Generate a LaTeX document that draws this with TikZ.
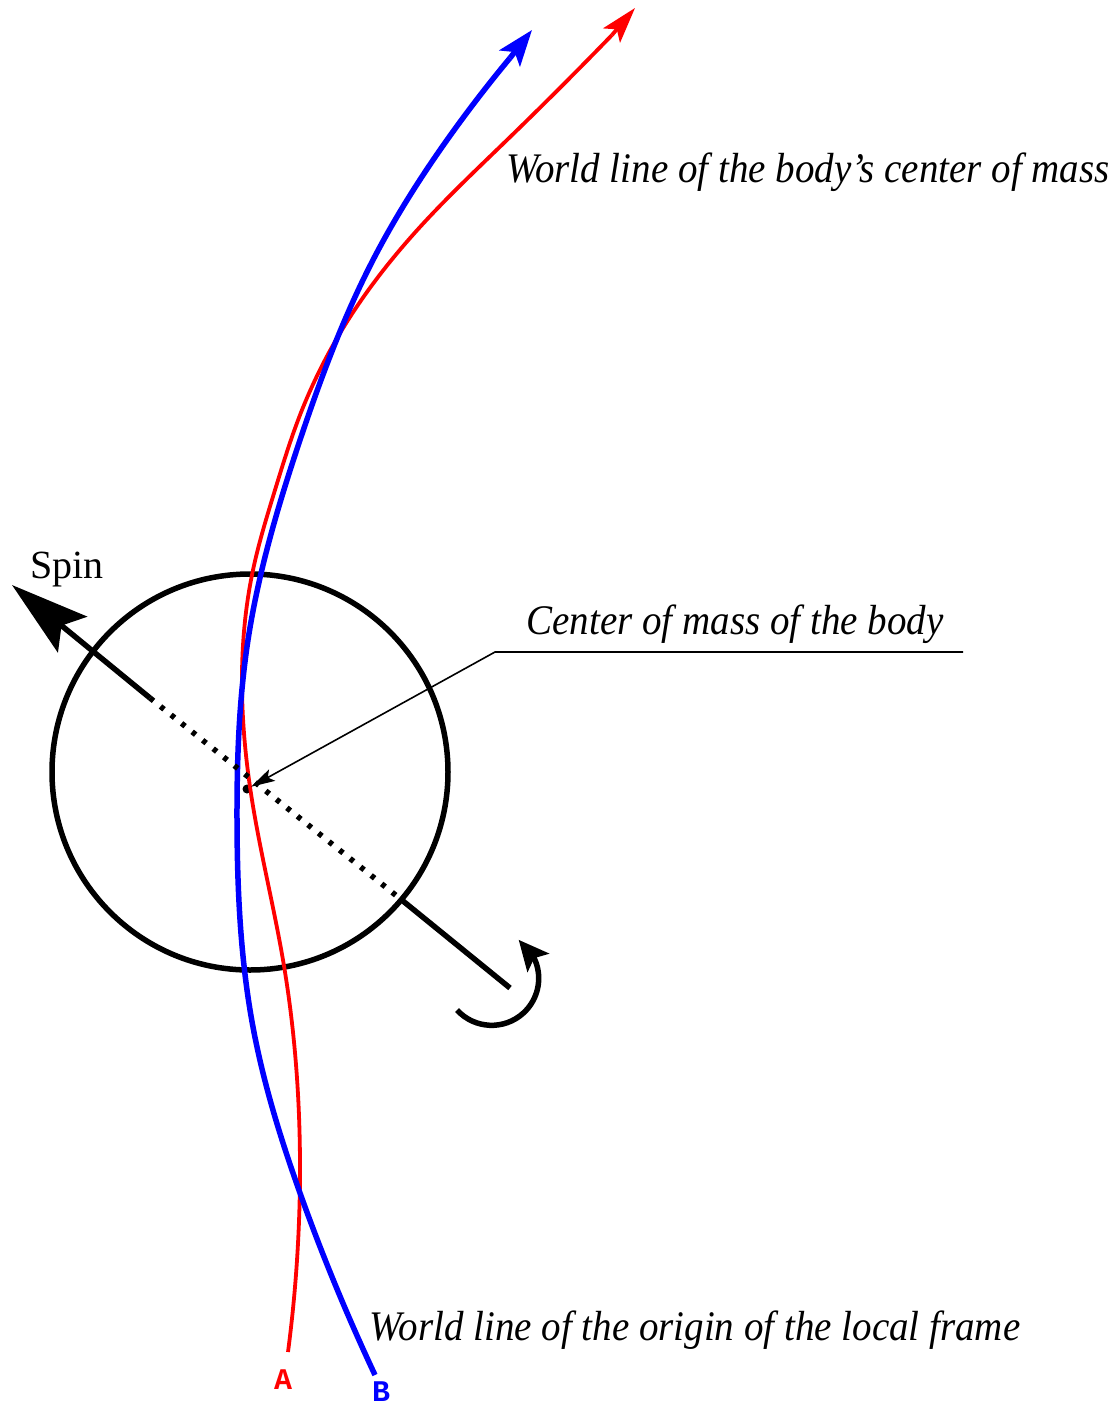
\documentclass[tikz,border=0pt]{standalone}
\usepackage{fontspec}
\setmainfont{Liberation Serif}
\newfontfamily\codefont{Liberation Mono}
\usepackage{tikz}
\usetikzlibrary{arrows.meta, bending, positioning, calc, hobby}
\definecolor{worldred}{RGB}{255, 0, 0}
\definecolor{worldblue}{RGB}{0, 0, 255}

\begin{document}
\begin{tikzpicture}[
    x=1pt, y=-1pt, use Hobby shortcut,
    worldline/.style={line width=#1, line join=round},
    axisline/.style={line width=5.5pt},
    label/.style={font=\fontsize{39}{42}\selectfont\itshape, inner sep=0pt,
                  yscale=1.08},
    endlabel/.style={font=\fontsize{30}{32}\selectfont\codefont\bfseries, inner sep=0pt},
    pointer/.style={line width=1.6pt},
]
    \useasboundingbox (0,0) rectangle (1113,1408);

    % the body
    \node[draw, circle, line width=5.5pt, minimum size=396pt, inner sep=0pt]
        (body) at (250,772) {};
    \node[circle, fill, minimum size=9pt, inner sep=0pt] (com) at (247,789) {};

    % world lines
    \coordinate (redstart) at (288,1352);
    \coordinate (redtip) at (635,8);
    \coordinate (redlast) at (612,35);
    \coordinate (bluestart) at (375,1375);
    \coordinate (bluetip) at (532,30);
    \coordinate (bluelast) at (510,58);
    \draw[worldline=3.8pt, worldred]
        (redstart) .. (300,1170) .. (283,960) .. (252,800) .. (242,690)
        .. (253,570) .. (275,490) .. (300,415) .. (350,317) .. (420,227)
        .. (507,140) .. (redlast);
    \draw[worldline=3.8pt, worldred, -{Stealth[length=36pt, width=22pt, inset=8pt]}]
        (redlast) -- (redtip);
    \draw[worldline=5.5pt, worldblue]
        (bluestart) .. (300,1193) .. (253,1027) .. (237,820) .. (248,640)
        .. (300,440) .. (373,260) .. (447,140) .. (bluelast);
    \draw[worldline=5.5pt, worldblue, -{Stealth[length=36pt, width=26pt, inset=8pt]}]
        (bluelast) -- (bluetip);

    % spin axis
    \coordinate (spintip) at (12,585);
    \coordinate (axisin) at (150,698);
    \coordinate (axisout) at (403,901);
    \coordinate (axisend) at (510,988);
    \draw[axisline, -{Stealth[length=78pt, width=46pt, inset=14pt]}] (axisin) -- (spintip);
    \draw[axisline, dash pattern=on 4.5pt off 9pt] (axisin) -- (axisout);
    \draw[axisline] (axisout) -- (axisend);
    \draw[axisline, -{Stealth[length=30pt, width=28pt, inset=6pt]}]
        (457,1010) arc[start angle=137.6, end angle=-55, radius=47];
    \node[font=\fontsize{40}{42}\selectfont, inner sep=0pt] (spin) at (67,570) {Spin};

    % labels
    \node[label] (cmlabel) at (808,172) {World line of the body's center of mass};
    \node[label] (comlabel) at (735,624) {Center of mass of the body};
    \node[label] (framelabel) at (695,1330) {World line of the origin of the local frame};
    \node[endlabel, worldred] (A) at (283,1380) {A};
    \node[endlabel, worldblue] (B) at (381,1392) {B};

    \coordinate (lineR) at (963,652);
    \coordinate (lineL) at (495,652);
    \draw[pointer, -{Stealth[length=24pt, width=13pt, inset=5pt]}]
        (lineR) -- (lineL) -- (com);
\end{tikzpicture}
\end{document}
